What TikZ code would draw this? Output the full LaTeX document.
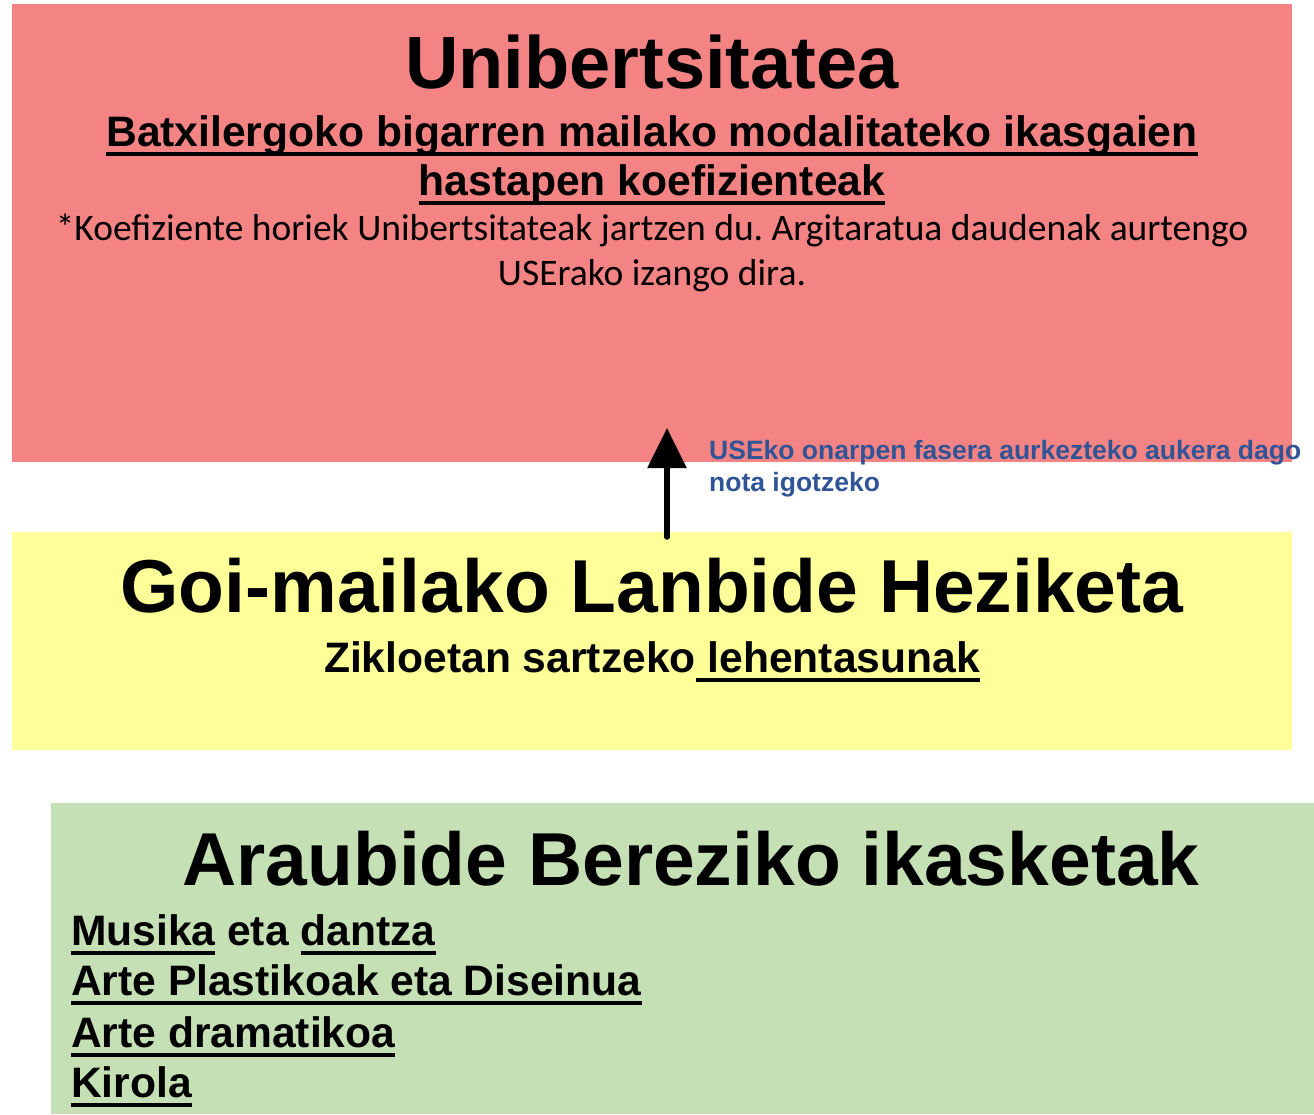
\documentclass[tikz,border=0pt]{standalone}
\usepackage{fontspec}
\setmainfont{Liberation Sans}
\newfontfamily\calfont{Carlito}
\usetikzlibrary{arrows.meta}
\frenchspacing
\definecolor{redbox}{HTML}{F48383}
\definecolor{yellowbox}{HTML}{FFFF99}
\definecolor{greenbox}{HTML}{C5E0B4}
\definecolor{bluetext}{HTML}{2F5597}
\newcommand\myul[1]{\setbox0\hbox{#1}\rlap{\rule[-0.24em]{\wd0}{0.105em}}\box0\relax}
\tikzset{
  box/.style={draw=none, inner sep=0pt, outer sep=0pt, anchor=north west},
  txt/.style={inner sep=0pt, outer sep=0pt, anchor=base, font=\bfseries},
  ltxt/.style={inner sep=0pt, outer sep=0pt, anchor=base west, font=\bfseries\fontsize{42.6}{46}\selectfont},
}
\begin{document}
\begin{tikzpicture}[x=1pt,y=-1pt]
\useasboundingbox (0,0) rectangle (1314,1114);
\node[box, fill=redbox, minimum width=1280pt, minimum height=458pt] (uni) at (12,4) {};
\node[box, fill=yellowbox, minimum width=1280pt, minimum height=218pt] (lh) at (12,532) {};
\node[box, fill=greenbox, minimum width=1263pt, minimum height=311pt] (abi) at (51,803) {};

\node[txt, font=\bfseries\fontsize{74}{80}\selectfont] (t1) at (652,88) {Unibertsitatea};
\node[txt, font=\bfseries\fontsize{42.6}{46}\selectfont] (t2) at (652,146) {\myul{Batxilergoko bigarren mailako modalitateko ikasgaien}};
\node[txt, font=\bfseries\fontsize{42.6}{46}\selectfont] (t3) at (652,195) {\myul{hastapen koefizienteak}};
\node[txt, font=\calfont\fontsize{37.5}{40}\selectfont] (t4) at (652,240) {*Koefiziente horiek Unibertsitateak jartzen du. Argitaratua daudenak aurtengo};
\node[txt, font=\calfont\fontsize{37.5}{40}\selectfont] (t5) at (652,285) {USErako izango dira.};

\coordinate (arrowstart) at (667,537);
\coordinate (arrowend) at (667,428);
\draw[line width=5.5pt, line cap=round, -{Triangle[length=40pt,width=38pt]}] (arrowstart) -- (arrowend);
\node[inner sep=0pt, anchor=base west, font=\bfseries\fontsize{26.5}{32}\selectfont, text=bluetext] (b1) at (709,459) {USEko onarpen fasera aurkezteko aukera dago};
\node[inner sep=0pt, anchor=base west, font=\bfseries\fontsize{26.5}{32}\selectfont, text=bluetext] (b2) at (709,491) {nota igotzeko};

\node[txt, font=\bfseries\fontsize{75}{80}\selectfont] (g1) at (652,612) {Goi-mailako Lanbide Heziketa};
\node[txt, font=\bfseries\fontsize{42.6}{46}\selectfont] (g2) at (652,672) {Zikloetan sartzeko\myul{ lehentasunak}};

\node[txt, font=\bfseries\fontsize{75}{80}\selectfont] (a1) at (691,885) {Araubide Bereziko ikasketak};
\node[ltxt] (l1) at (71,945) {\myul{Musika} eta \myul{dantza}};
\node[ltxt] (l2) at (71,995) {\myul{Arte Plastikoak eta Diseinua}};
\node[ltxt] (l3) at (71,1047) {\myul{Arte dramatikoa}};
\node[ltxt] (l4) at (71,1097) {\myul{Kirola}};
\end{tikzpicture}
\end{document}
